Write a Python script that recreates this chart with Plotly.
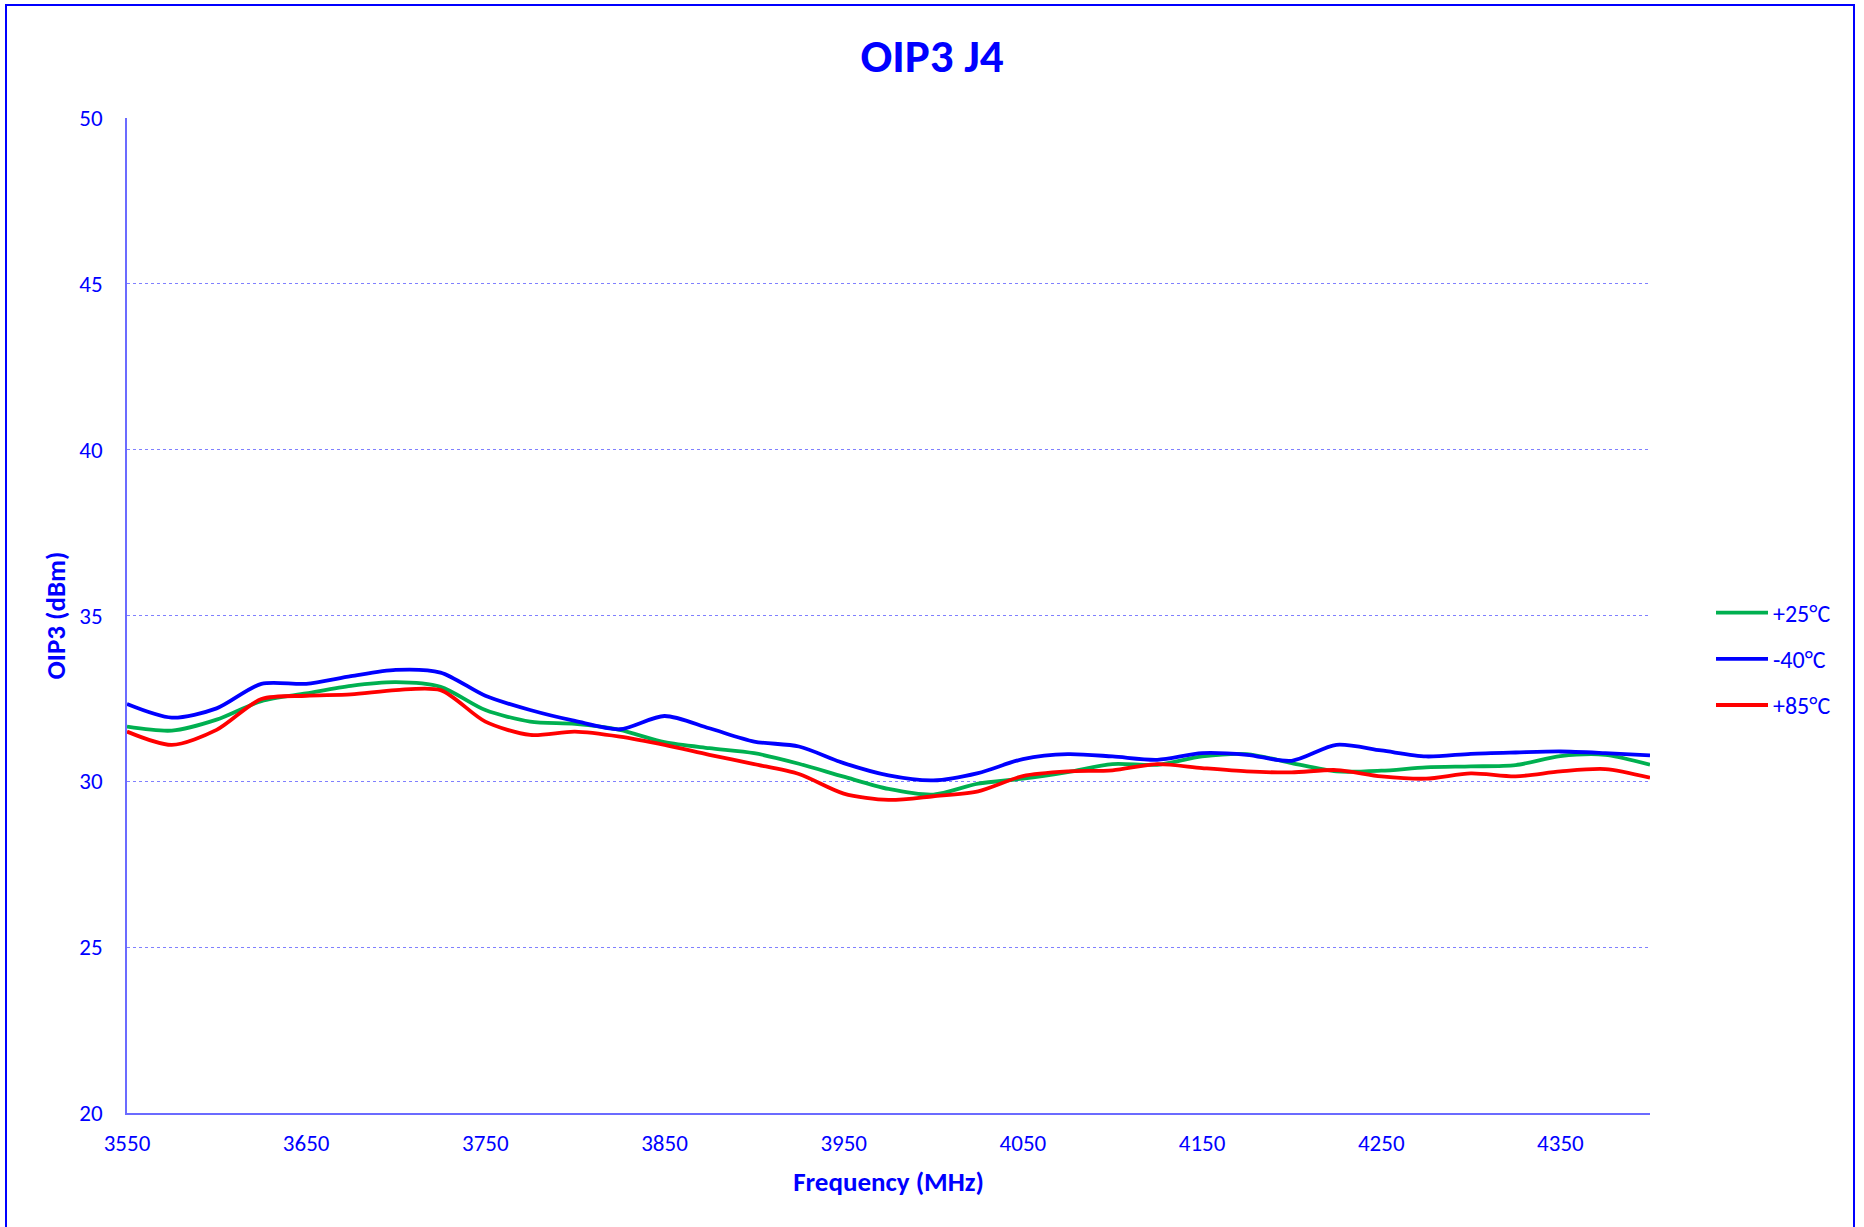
import plotly.graph_objects as go

# Frequency (MHz)
freq = [3550, 3575, 3600, 3625, 3650, 3675, 3700, 3725, 3750, 3775,
        3800, 3825, 3850, 3875, 3900, 3925, 3950, 3975, 4000, 4025,
        4050, 4075, 4100, 4125, 4150, 4175, 4200, 4225, 4250, 4275,
        4300, 4325, 4350, 4375, 4400]

# OIP3 (dBm) per temperature
oip3_p25 = [31.65, 31.53, 31.86, 32.42, 32.65, 32.88, 32.99, 32.85, 32.15, 31.80,
            31.73, 31.55, 31.18, 31.00, 30.85, 30.53, 30.14, 29.77, 29.60, 29.93,
            30.08, 30.28, 30.52, 30.50, 30.75, 30.82, 30.55, 30.30, 30.32, 30.42,
            30.45, 30.49, 30.76, 30.80, 30.50]
oip3_m40 = [32.33, 31.92, 32.20, 32.94, 32.94, 33.17, 33.36, 33.28, 32.58, 32.15,
            31.82, 31.57, 31.97, 31.60, 31.20, 31.05, 30.55, 30.18, 30.03, 30.25,
            30.67, 30.82, 30.75, 30.65, 30.85, 30.80, 30.62, 31.10, 30.93, 30.75,
            30.83, 30.87, 30.90, 30.85, 30.78]
oip3_p85 = [31.50, 31.10, 31.55, 32.48, 32.58, 32.62, 32.75, 32.75, 31.80, 31.40,
            31.50, 31.35, 31.10, 30.80, 30.52, 30.22, 29.63, 29.44, 29.55, 29.70,
            30.16, 30.30, 30.33, 30.52, 30.40, 30.30, 30.27, 30.34, 30.15, 30.08,
            30.24, 30.15, 30.30, 30.37, 30.11]

series_names = ["+25°C", "-40°C", "+85°C"]
series_colors = ["#00B050", "#0000FF", "#FF0000"]

x_ticks = [3550, 3650, 3750, 3850, 3950, 4050, 4150, 4250, 4350]
y_ticks = [20, 25, 30, 35, 40, 45, 50]

FONT = "Carlito, Calibri, Lato, sans-serif"
BLUE = "#0000FF"

fig = go.Figure()
for name, vals, col in zip(series_names, [oip3_p25, oip3_m40, oip3_p85], series_colors):
    fig.add_trace(go.Scatter(
        x=freq, y=vals, name=name, mode="lines",
        line=dict(color=col, width=3.8, shape="spline", smoothing=0.8),
        legendgroup=name,
    ))

W, H = 1864, 1227
L, R, T, B = 127, 214, 118, 114
pw, ph = W - L - R, H - T - B

def px(xp):
    return (xp - L) / pw

def py(yp):
    return (H - B - yp) / ph

fig.update_layout(
    width=W, height=H,
    margin=dict(l=L, r=R, t=T, b=B),
    paper_bgcolor="white", plot_bgcolor="white",
    font=dict(family=FONT, color=BLUE, size=23),
    title=dict(text="<b>OIP3 J4</b>", x=0.5, xref="container", xanchor="center",
               y=1 - 56 / H, yref="container", yanchor="middle",
               font=dict(family=FONT, size=47, color=BLUE)),
    showlegend=True,
    legend=dict(x=px(1711), xanchor="left", y=py(659), yanchor="middle",
                font=dict(family=FONT, size=24, color=BLUE),
                traceorder="grouped", tracegroupgap=12, itemwidth=52,
                bgcolor="rgba(0,0,0,0)"),
    xaxis=dict(range=[3550, 4400], tickvals=x_ticks, ticktext=[str(v) for v in x_ticks],
               showgrid=False, zeroline=False,
               showline=True, linecolor="#6B6BFF", linewidth=1.5,
               ticks="", ticklabelstandoff=9,
               tickfont=dict(family=FONT, size=23, color=BLUE),
               title=dict(text="<b>Frequency (MHz)</b>", standoff=16,
                          font=dict(family=FONT, size=27, color=BLUE))),
    yaxis=dict(range=[20, 50], tickvals=y_ticks,
               showgrid=True, gridcolor="#8080FF", griddash="dot", gridwidth=1,
               zeroline=False,
               showline=True, linecolor="#6B6BFF", linewidth=1.5,
               ticks="", ticklabelstandoff=18,
               tickfont=dict(family=FONT, size=23, color=BLUE),
               title=dict(text="<b>OIP3 (dBm)</b>", standoff=6,
                          font=dict(family=FONT, size=27, color=BLUE))),
)

# outer chart border
fig.add_shape(type="rect", xref="paper", yref="paper",
              x0=px(6), x1=px(1854), y0=py(1240), y1=py(5),
              line=dict(color=BLUE, width=2), fillcolor="rgba(0,0,0,0)", layer="below")

fig.write_html("out.html", config={"displayModeBar": False},
               post_script="document.body.style.margin='0';")
